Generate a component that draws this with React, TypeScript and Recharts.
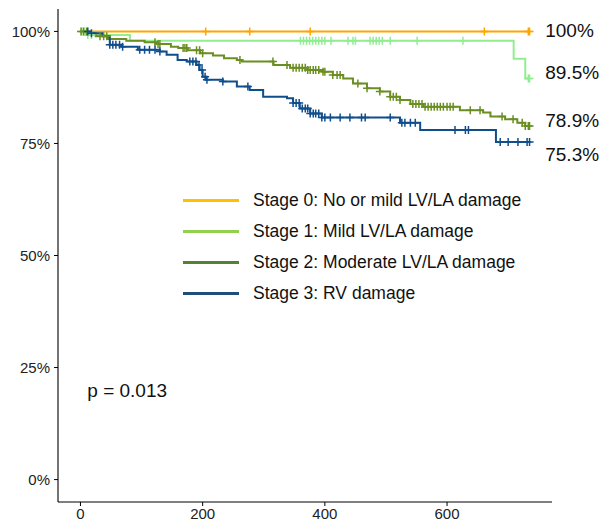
import React from "react";
import { ComposedChart, Line, Scatter, XAxis, YAxis } from "recharts";

// Kaplan–Meier step curves: event times (days) and survival (%) after each step
const stage0Times = [0];
const stage0Surv = [100];
const stage1Times = [0, 8, 81, 709, 728];
const stage1Surv = [100, 99.2, 97.9, 93.9, 89.5];
const stage2Times = [0, 12, 25, 45, 75, 105, 125, 148, 160, 175, 196, 217, 235, 256, 264, 316, 343, 372, 397, 413, 430, 446, 469, 490, 507, 523, 540, 561, 621, 659, 671, 695, 715, 728];
const stage2Surv = [100, 99.6, 98.9, 98.3, 97.9, 97.6, 97.2, 96.6, 96.3, 95.8, 95.1, 94.6, 94.0, 93.6, 93.3, 92.5, 91.9, 91.4, 91.0, 90.3, 89.5, 88.4, 87.3, 86.6, 85.4, 84.7, 83.8, 83.2, 82.4, 81.9, 81.0, 80.4, 79.6, 78.9];
const stage3Times = [0, 15, 36, 48, 67, 94, 130, 141, 159, 174, 190, 195, 200, 206, 233, 256, 277, 299, 338, 348, 359, 376, 395, 523, 556, 680];
const stage3Surv = [100, 99.6, 98.9, 97.0, 96.6, 95.9, 95.5, 94.8, 93.6, 93.3, 92.5, 91.4, 89.9, 89.2, 88.8, 87.7, 86.9, 85.4, 85.1, 84.0, 82.8, 81.7, 80.8, 79.6, 78.0, 75.3];

// Censored observations (days)
const stage0Censor = [205, 277, 376, 661, 733, 735];
const stage1Censor = [2, 6, 12, 18, 360, 365, 370, 375, 380, 385, 390, 395, 400, 410, 438, 446, 450, 474, 479, 484, 489, 494, 507, 551, 626, 733, 735];
const stage2Censor = [1, 5, 10, 32, 38, 43, 122, 127, 130, 168, 171, 174, 190, 195, 200, 261, 315, 338, 348, 353, 358, 363, 368, 372, 376, 381, 385, 390, 397, 400, 413, 420, 425, 454, 469, 490, 507, 512, 517, 523, 544, 549, 554, 559, 564, 569, 574, 579, 584, 589, 594, 600, 605, 610, 638, 654, 690, 708, 723, 728, 733, 735];
const stage3Censor = [12, 18, 48, 53, 58, 64, 69, 97, 105, 113, 122, 130, 179, 184, 189, 194, 199, 204, 207, 233, 274, 348, 353, 358, 363, 368, 372, 376, 381, 385, 390, 395, 400, 409, 425, 441, 460, 466, 507, 526, 531, 540, 548, 613, 630, 635, 687, 700, 716, 731, 735];

const followUpEnd = 735;
const stageNames = [
  "Stage 0: No or mild LV/LA damage",
  "Stage 1: Mild LV/LA damage",
  "Stage 2: Moderate LV/LA damage",
  "Stage 3: RV damage",
];
const xTicks = [0, 200, 400, 600];
const yTicks = [0, 25, 50, 75, 100];
const pValueText = "p = 0.013";

const lineColors = ["#FFA500", "#90EE90", "#6B8E23", "#104E8B"];
const legendColors = ["#FFC000", "#92D050", "#548235", "#1F4E79"];
const endLabelNudge = [-1.3, -6.2, -5.3, 12.1];

const FONT = "'Liberation Sans', Arial, Helvetica, sans-serif";

type Pt = { t: number; s: number };

function stepData(times: number[], surv: number[]): Pt[] {
  const pts = times.map((t, i) => ({ t, s: surv[i] }));
  pts.push({ t: followUpEnd, s: surv[surv.length - 1] });
  return pts;
}

function survivalAt(times: number[], surv: number[], t: number): number {
  let v = surv[0];
  for (let i = 0; i < times.length; i++) {
    if (times[i] <= t) v = surv[i];
  }
  return v;
}

function censorData(times: number[], surv: number[], censor: number[]): Pt[] {
  return censor.map((t) => ({ t, s: survivalAt(times, surv, t) }));
}

const series = [
  { times: stage0Times, surv: stage0Surv, censor: stage0Censor },
  { times: stage1Times, surv: stage1Surv, censor: stage1Censor },
  { times: stage2Times, surv: stage2Surv, censor: stage2Censor },
  { times: stage3Times, surv: stage3Surv, censor: stage3Censor },
];

const endPoints = series.map((s, i) => ({
  t: followUpEnd,
  s: s.surv[s.surv.length - 1],
  idx: i,
}));

const makeCross = (color: string) => (props: any) => {
  const { cx, cy } = props;
  if (cx == null || cy == null) return <g />;
  return (
    <path
      d={`M${cx - 4},${cy}H${cx + 4}M${cx},${cy - 4}V${cy + 4}`}
      stroke={color}
      strokeWidth={1.5}
      fill="none"
    />
  );
};

const EndLabel = (props: any) => {
  const { cx, cy, payload } = props;
  if (cx == null || cy == null) return <g />;
  return (
    <text
      x={cx + 15.7}
      y={cy + endLabelNudge[payload.idx]}
      dominantBaseline="central"
      fontSize={19}
      fontFamily={FONT}
      fill="#111"
    >
      {`${payload.s}%`}
    </text>
  );
};

export default function App() {
  return (
    <div style={{ position: "absolute", left: 0, top: 0, width: 603, height: 521, background: "#fff" }}>
      <ComposedChart
        width={603}
        height={521}
        margin={{ top: 9, right: 51, left: 0, bottom: 0 }}
        style={{ overflow: "visible" }}
      >
        <XAxis
          type="number"
          dataKey="t"
          domain={[-36.75, 771.75]}
          ticks={xTicks}
          height={19}
          tickSize={4}
          tickMargin={2}
          axisLine={{ stroke: "#000", strokeWidth: 1.1 }}
          tickLine={{ stroke: "#000" }}
          tick={{ fill: "#222", fontSize: 15, fontFamily: FONT }}
        />
        <YAxis
          type="number"
          dataKey="s"
          domain={[-5, 105]}
          ticks={yTicks}
          width={58}
          tickSize={4}
          tickMargin={4}
          tickFormatter={(v: number) => `${v}%`}
          axisLine={{ stroke: "#000", strokeWidth: 1.1 }}
          tickLine={{ stroke: "#000" }}
          tick={{ fill: "#222", fontSize: 15, fontFamily: FONT }}
        />
        {series.map((s, i) => (
          <Line
            key={`line-${i}`}
            data={stepData(s.times, s.surv)}
            dataKey="s"
            type="stepAfter"
            stroke={lineColors[i]}
            strokeWidth={2}
            dot={false}
            activeDot={false}
            isAnimationActive={false}
          />
        ))}
        {series.map((s, i) => (
          <Scatter
            key={`cens-${i}`}
            data={censorData(s.times, s.surv, s.censor)}
            dataKey="s"
            shape={makeCross(lineColors[i])}
            isAnimationActive={false}
          />
        ))}
        <Scatter data={endPoints} dataKey="s" shape={EndLabel} isAnimationActive={false} />
      </ComposedChart>

      <div style={{ position: "absolute", left: 183, top: 185.3, fontFamily: FONT, fontSize: 17.5, color: "#111" }}>
        {stageNames.map((name, i) => (
          <div key={name} style={{ display: "flex", alignItems: "center", height: 30.8 }}>
            <div style={{ width: 56, height: 3, background: legendColors[i] }} />
            <div style={{ marginLeft: 14, whiteSpace: "nowrap" }}>{name}</div>
          </div>
        ))}
      </div>

      <div style={{ position: "absolute", left: 87.3, top: 379.7, lineHeight: "22px", fontFamily: FONT, fontSize: 19, color: "#111" }}>
        {pValueText}
      </div>
    </div>
  );
}
